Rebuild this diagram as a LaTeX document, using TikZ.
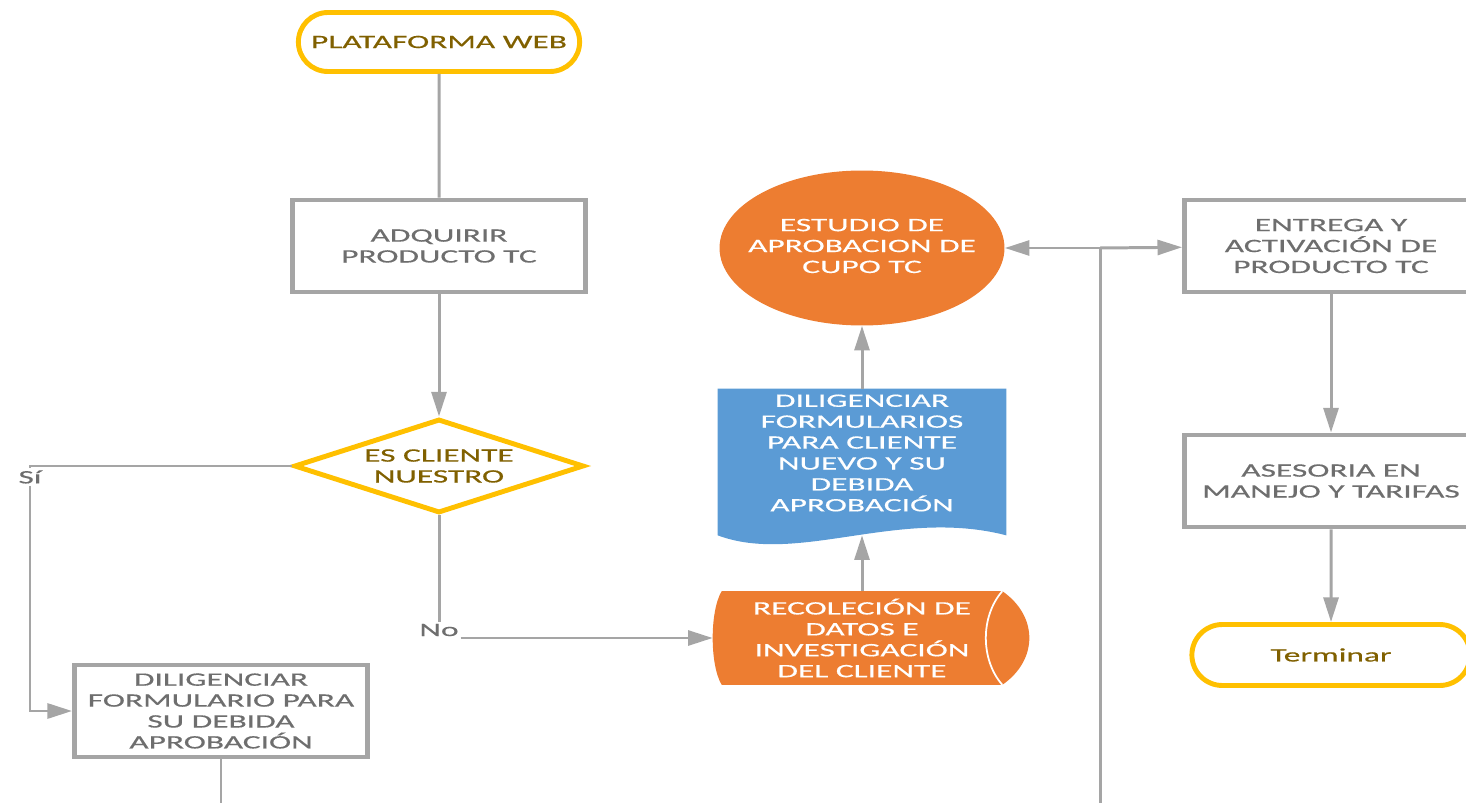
\documentclass[tikz,border=0pt]{standalone}
\usepackage{fontspec}
\setmainfont{Carlito}[FakeStretch=1.76,FakeBold=0.5]
\usepackage{tikz}
\usetikzlibrary{backgrounds}
\usetikzlibrary{arrows.meta}
\usetikzlibrary{shapes.geometric}
\usetikzlibrary{shapes.misc}

\definecolor{amarillo}{HTML}{FFC000}
\definecolor{dorado}{HTML}{806000}
\definecolor{gris}{HTML}{A5A5A5}
\definecolor{grisTexto}{HTML}{6E6E6E}
\definecolor{naranja}{HTML}{ED7D31}
\definecolor{azul}{HTML}{5B9BD5}
\newcommand{\letra}{\fontsize{10.8pt}{11.9pt}\selectfont}

\tikzset{
  conector/.style={draw=gris,line width=1.7pt},
  caja/.style={rectangle,draw=gris,line width=2.8pt,minimum width=5.86cm,minimum height=1.84cm,text=grisTexto,align=center,font=\letra},
  terminal/.style={rounded rectangle,draw=amarillo,line width=2.8pt,minimum width=5.86cm,minimum height=1.18cm,text=dorado,align=center,font=\letra},
  decision/.style={diamond,aspect=3.1,draw=amarillo,line width=2.8pt,minimum width=5.8cm,minimum height=1.88cm,inner sep=0pt,text=dorado,align=center,font=\letra},
  forma/.style={inner sep=0pt,text=white,align=center,font=\letra},
  etiqueta/.style={text=grisTexto,font=\letra,inner sep=1pt},
}

\begin{document}
\begin{tikzpicture}[x=0.02cm,y=-0.02cm,>={Triangle[length=14pt,width=8.5pt]}]
\path[use as bounding box,clip] (0,0) rectangle (1466,803);

% nodos
\node[terminal] (inicio) at (439,42) {PLATAFORMA WEB};
\node[caja] (adquirir) at (439,246) {ADQUIRIR\\PRODUCTO TC};
\node[decision] (cliente) at (439,466) {ES CLIENTE\\NUESTRO};
\node[caja] (diligenciar) at (221,711) {DILIGENCIAR\\FORMULARIO PARA\\SU DEBIDA\\APROBACIÓN};
\node[etiqueta] (si) at (30,477) {Sí};
\node[etiqueta] (no) at (439,630) {No};
\node[forma,minimum width=5.6cm,minimum height=1.86cm] (recoleccion) at (862,638) {RECOLECIÓN DE\\DATOS E\\INVESTIGACIÓN\\DEL CLIENTE};
\node[forma,minimum width=5.76cm,minimum height=2.92cm] (formularios) at (862,462) {};
\node[forma] (formularios-txt) at (862,453) {DILIGENCIAR\\FORMULARIOS\\PARA CLIENTE\\NUEVO Y SU\\DEBIDA\\APROBACIÓN};
\node[forma,ellipse,fill=naranja,minimum width=5.7cm,minimum height=3.1cm] (estudio) at (862,248) {};
\node[forma] (estudio-txt) at (862,246) {ESTUDIO DE\\APROBACION DE\\CUPO TC};
\node[caja] (entrega) at (1331,246) {ENTREGA Y\\ACTIVACIÓN DE\\PRODUCTO TC};
\node[caja] (asesoria) at (1331,481) {ASESORIA EN\\MANEJO Y TARIFAS};
\node[terminal,minimum width=5.8cm,minimum height=1.22cm] (terminar) at (1331,655) {Terminar};
\coordinate (cruce) at (1100,248);
\coordinate (borde-rec) at ([xshift=-0.18cm]recoleccion.west);

% formas especiales
\begin{scope}[on background layer]
\fill[naranja] (recoleccion.north west) .. controls +(-12,20) and +(-12,-20) .. (recoleccion.south west)
  -- (recoleccion.south east) .. controls +(36,-25) and +(36,25) .. (recoleccion.north east) -- cycle;
\draw[white,line width=1pt] (recoleccion.north east) .. controls +(-22,25) and +(-22,-25) .. (recoleccion.south east);
\fill[azul] (formularios.south west) .. controls +(80,30) and +(-108,-28) .. (formularios.south east)
  -- (formularios.north east) -- (formularios.north west) -- cycle;
\end{scope}

% conectores
\draw[conector] (inicio) -- (adquirir);
\draw[conector,->] (adquirir) -- (cliente);
\draw[conector] (cliente.west) -| (si);
\draw[conector,->] (si) |- (diligenciar);
\draw[conector] (cliente) -- (no);
\draw[conector,->] (no.east |- recoleccion.west) -- (borde-rec);
\draw[conector,->] (recoleccion) -- (formularios);
\draw[conector,->] (formularios) -- (estudio);
\draw[conector] (diligenciar.south) -- ++(0,60) -| (cruce);
\draw[conector,->] (cruce) -- (estudio);
\draw[conector,->] (cruce) -- (entrega);
\draw[conector,->] (entrega) -- (asesoria);
\draw[conector,->] (asesoria) -- (terminar);
\end{tikzpicture}
\end{document}
